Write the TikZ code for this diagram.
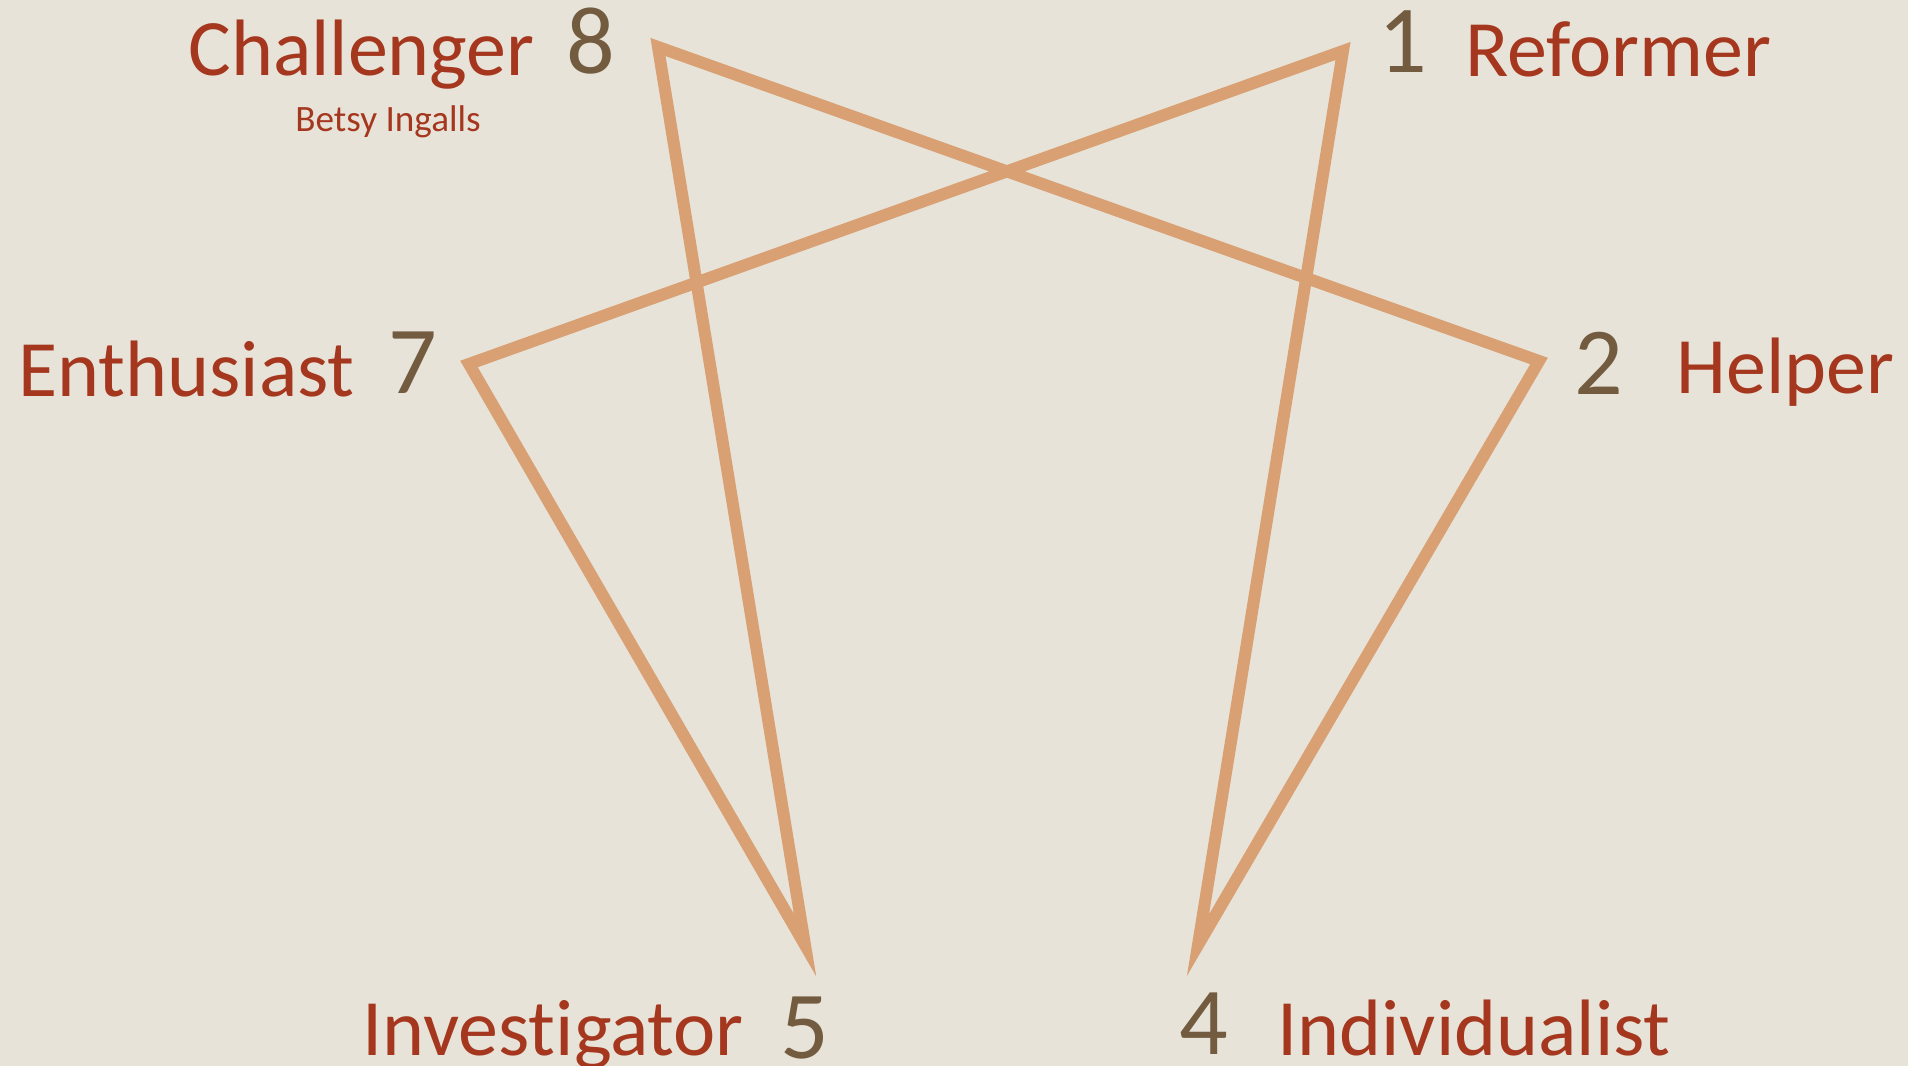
\documentclass[tikz,border=0pt]{standalone}
\usepackage{fontspec}
\setmainfont{Carlito}[Ligatures={NoCommon}]
\definecolor{bgc}{HTML}{E7E3D8}
\definecolor{linec}{HTML}{D9A073}
\definecolor{namec}{HTML}{A5371F}
\definecolor{numc}{HTML}{735B3F}
\tikzset{
  namelbl/.style={anchor=base west, inner sep=0pt, text=namec, font=\fontsize{40.0}{45}\selectfont},
  numlbl/.style={anchor=base west, inner sep=0pt, text=numc, font=\fontsize{48}{54}\selectfont},
  authorlbl/.style={anchor=base west, inner sep=0pt, text=namec, font=\fontsize{18.6}{22}\selectfont},
  ennealine/.style={draw=linec, line width=6pt, line join=miter}
}
\begin{document}
\begin{tikzpicture}[x=0.5pt, y=-0.5pt]
  \fill[bgc] (0,0) rectangle (1908,1066);
  \useasboundingbox (0,0) rectangle (1908,1066);
  % vertices
  \coordinate (v8) at (658,47);
  \coordinate (v1) at (1343,51);
  \coordinate (v7) at (469,364);
  \coordinate (v2) at (1539,361);
  \coordinate (v5) at (805,945);
  \coordinate (v4) at (1198,945);
  \draw[ennealine] (v8) -- (v2) -- (v4) -- (v1) -- (v7) -- (v5) -- cycle;
  % labels
  \node[namelbl] (challenger) at (188,75) {Challenger};
  \node[numlbl] (n8) at (566,73) {8};
  \node[authorlbl] (author) at (295,131) {Betsy Ingalls};
  \node[numlbl] (n1) at (1378,72) {1};
  \node[namelbl] (reformer) at (1465,76) {Reformer};
  \node[namelbl] (enthusiast) at (18,396) {Enthusiast};
  \node[numlbl] (n7) at (388,393) {7};
  \node[numlbl] (n2) at (1574,394) {2};
  \node[namelbl] (helper) at (1676,393) {Helper};
  \node[namelbl] (investigator) at (362,1055) {Investigator};
  \node[numlbl] (n5) at (780,1058) {5};
  \node[numlbl] (n4) at (1179,1054) {4};
  \node[namelbl] (individualist) at (1277,1055) {Individualist};
\end{tikzpicture}
\end{document}
